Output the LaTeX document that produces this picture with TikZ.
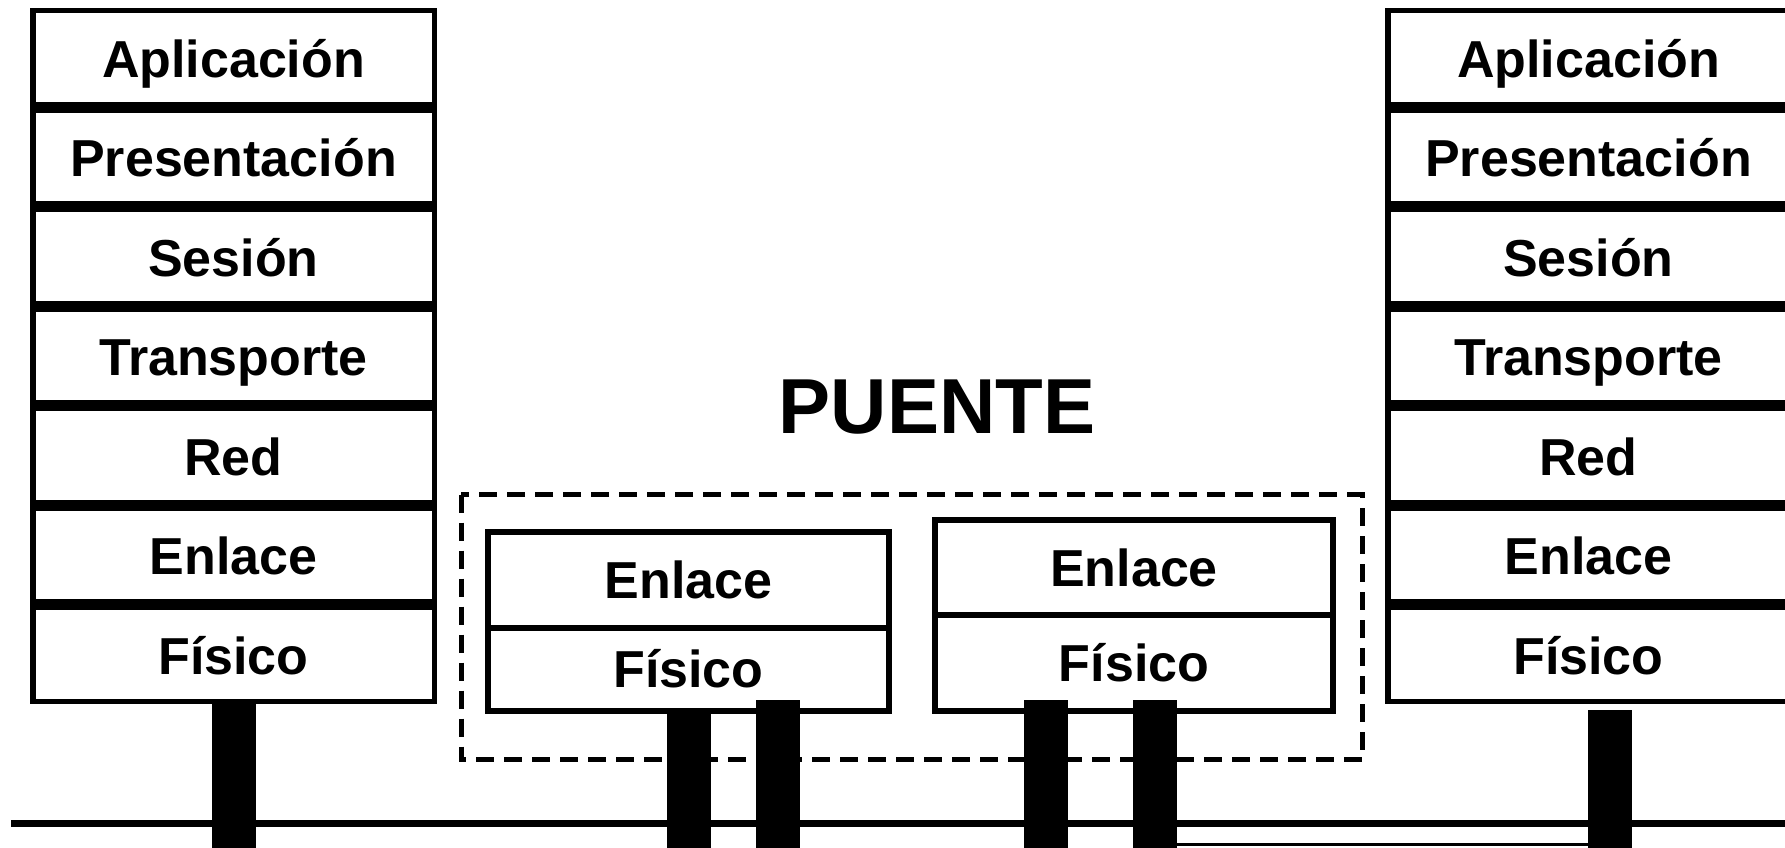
\documentclass[tikz,border=0pt]{standalone}
\usepackage{fontspec}
\setmainfont{Liberation Sans}
\usetikzlibrary{positioning}
\tikzset{
  capa/.style={draw, line width=2.75pt, minimum width=200.75pt, minimum height=47pt,
    inner sep=0pt, text height=19.6pt, text depth=0pt,
    font=\fontsize{26}{28}\selectfont\bfseries},
  caja/.style={draw, line width=3pt, outer sep=0pt, minimum width=200.5pt,
    inner sep=0pt, text height=18.6pt, text depth=0pt,
    font=\fontsize{26}{28}\selectfont\bfseries},
  barra/.style={line width=22pt},
  bus/.style={line width=3.4pt},
  marco/.style={line width=2.5pt, dash pattern=on 9pt off 5pt}
}
\begin{document}
\begin{tikzpicture}[x=0.5pt, y=-0.5pt]
  \useasboundingbox (0,0) rectangle (1785,847);
  \clip (0,0) rectangle (1785,847);
  % pila izquierda
  \node[capa] (la) at (233.5,57.7) {Aplicación};
  \node[capa, below=0pt of la] (lp) {Presentación};
  \node[capa, below=0pt of lp] (ls) {Sesión};
  \node[capa, below=0pt of ls] (lt) {Transporte};
  \node[capa, below=0pt of lt] (lr) {Red};
  \node[capa, below=0pt of lr] (le) {Enlace};
  \node[capa, below=0pt of le] (lf) {Físico};
  % pila derecha
  \node[capa] (ra) at (1588.5,57.7) {Aplicación};
  \node[capa, below=0pt of ra] (rp) {Presentación};
  \node[capa, below=0pt of rp] (rs) {Sesión};
  \node[capa, below=0pt of rs] (rt) {Transporte};
  \node[capa, below=0pt of rt] (rr) {Red};
  \node[capa, below=0pt of rr] (re) {Enlace};
  \node[capa, below=0pt of re] (rf) {Físico};
  % puente
  \node[font=\fontsize{39}{42}\selectfont\bfseries] (puente) at (937,407) {PUENTE};
  \draw[marco] (461,494.5) rectangle (1362,759.5);
  \node[caja, minimum height=47.75pt] (el) at (688.5,579.75) {Enlace};
  \node[caja, minimum height=41.75pt, below=0pt of el] (fl) {Físico};
  \node[caja, minimum width=199pt, minimum height=47.5pt] (er) at (1134,567.5) {Enlace};
  \node[caja, minimum width=199pt, minimum height=48pt, below=0pt of er] (fr) {Físico};
  % lineas
  \coordinate (busI) at (11,823.5);
  \coordinate (busD) at (1800,823.5);
  \coordinate (segD) at (1155,844.5);
  \coordinate (segE) at (1609.5,844.5);
  \begin{scope}[-]
    \draw[bus] (busI) -- (busD);
    \draw[line width=1.5pt] (segD) -- (segE);
    \draw[barra] (lf.south) -- ++(0,200);
    \draw[barra] (fl.south) -- ++(0,200);
    \draw[barra] ([xshift=44.5pt,yshift=5.5pt]fl.south) -- ++(0,200);
    \draw[barra] ([xshift=-44.25pt,yshift=5.5pt]fr.south) -- ++(0,200);
    \draw[barra] ([xshift=10.5pt,yshift=5.5pt]fr.south) -- ++(0,200);
    \draw[barra] ([xshift=10.5pt,yshift=-3pt]rf.south) -- ++(0,200);
  \end{scope}
\end{tikzpicture}
\end{document}
